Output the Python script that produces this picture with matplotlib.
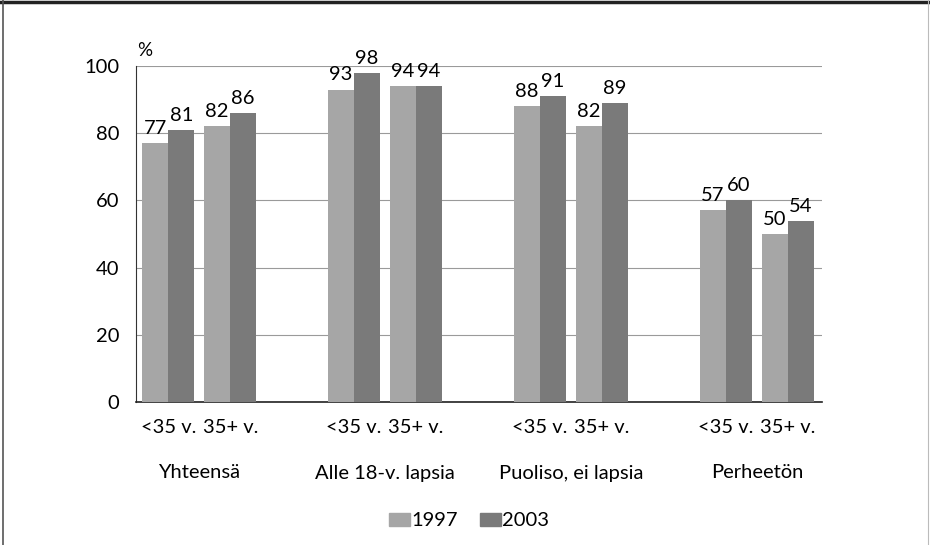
import matplotlib
matplotlib.use("Agg")
import matplotlib.pyplot as plt
from matplotlib.patches import Rectangle

plt.rcParams['font.family'] = ['Lato', 'DejaVu Sans']

groups = ["Yhteensä", "Alle 18-v. lapsia", "Puoliso, ei lapsia", "Perheetön"]
subcats = ["<35 v.", "35+ v."]
series_names = ["1997", "2003"]
v1997 = [77, 82, 93, 94, 88, 82, 57, 50]
v2003 = [81, 86, 98, 94, 91, 89, 60, 54]
yticks = [0, 20, 40, 60, 80, 100]

FS = 14.5
fig = plt.figure(figsize=(9.30, 5.45), dpi=100)
ax = fig.add_axes([136/930, 1-402/545, (822-136)/930, (402-66)/545])

pos = []
for g in range(len(groups)):
    pos += [3*g, 3*g + 1]
w = 0.42
c1, c2 = "#a6a6a6", "#7a7a7a"
ax.bar([p - w/2 for p in pos], v1997, width=w, color=c1, zorder=3)
ax.bar([p + w/2 for p in pos], v2003, width=w, color=c2, zorder=3)
for p, a, b in zip(pos, v1997, v2003):
    for x, v in ((p - w/2, a), (p + w/2, b)):
        ax.annotate(str(v), (x, v), xytext=(0, 6.5), textcoords="offset points",
                    ha="center", va="baseline", fontsize=FS, zorder=4)

ax.set_xlim(-0.52, 10.55)
ax.set_ylim(0, 100)
ax.set_yticks(yticks)
ax.set_yticklabels([str(t) for t in yticks], fontsize=FS)
ax.tick_params(axis="y", length=0, pad=12)
ax.set_xticks(pos)
ax.set_xticklabels(subcats * len(groups), fontsize=FS)
ax.tick_params(axis="x", length=0, pad=12)
ax.grid(axis="y", color="#9a9a9a", linewidth=0.8, zorder=0)
for s in ["top", "right"]:
    ax.spines[s].set_visible(False)
ax.spines["left"].set_color("#333333")
ax.spines["bottom"].set_color("#222222")
ax.spines["bottom"].set_linewidth(1.2)

for g, name in enumerate(groups):
    ax.text(3*g + 0.5, -(473-402)/336, name, transform=ax.get_xaxis_transform(),
            ha="center", va="center", fontsize=FS)

fig.text(145/930, 1-50/545, "%", fontsize=13.5, ha="center", va="center")

# legend
leg = [(389, c1, series_names[0]), (480, c2, series_names[1])]
for x, c, t in leg:
    fig.patches.append(Rectangle((x/930, 1-526/545), 21/930, 13/545,
                                 transform=fig.transFigure, color=c))
    fig.text((x + 22)/930, 1-520/545, t, fontsize=FS, ha="left", va="center")

# frame
fig.add_artist(plt.Line2D([0, 1], [1-2/545, 1-2/545], transform=fig.transFigure, color="#222222", lw=2.5))
fig.add_artist(plt.Line2D([3/930, 3/930], [0, 1], transform=fig.transFigure, color="#555555", lw=1.2))
fig.add_artist(plt.Line2D([928/930, 928/930], [0, 1], transform=fig.transFigure, color="#bbbbbb", lw=0.8))

fig.savefig("out.png", dpi=100)
